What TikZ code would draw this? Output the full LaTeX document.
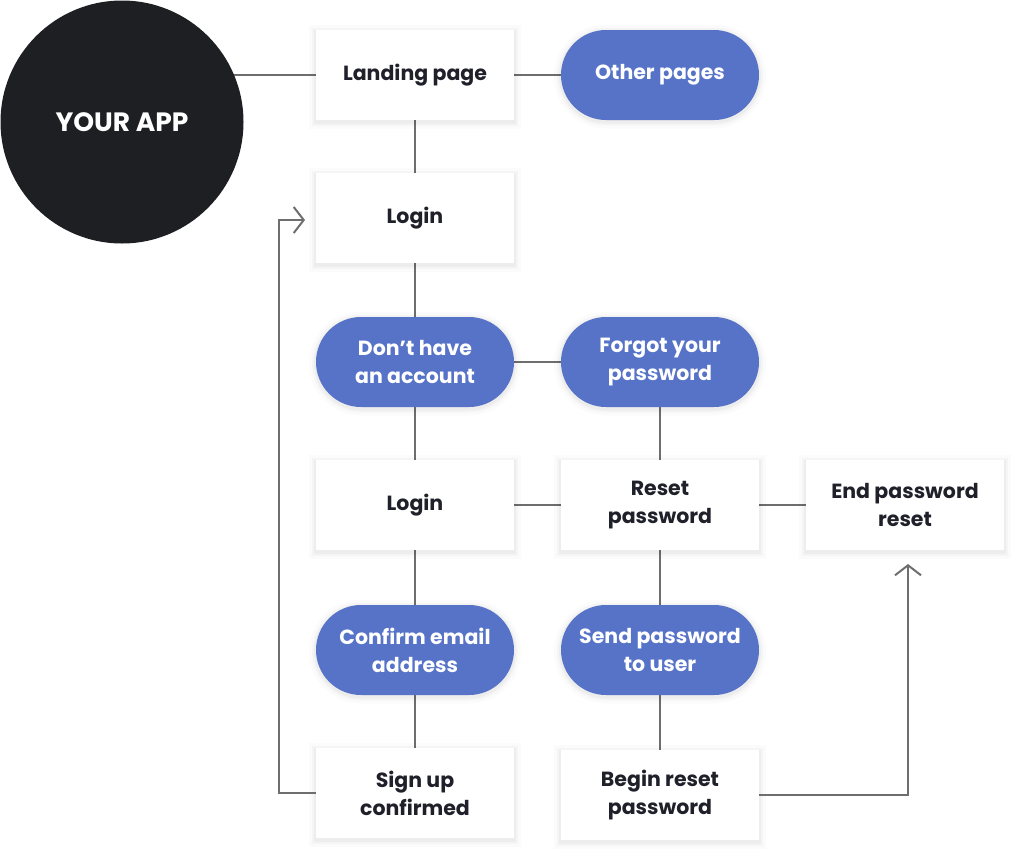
\documentclass[tikz,border=0pt]{standalone}
\usepackage{fontspec}
\setmainfont{Poppins}
\usetikzlibrary{arrows.meta,backgrounds}
\definecolor{pillblue}{HTML}{5673C8}
\definecolor{darktext}{HTML}{1F2029}
\definecolor{circfill}{HTML}{1E1F23}
\definecolor{linegray}{HTML}{6E6E6E}
\tikzset{
  base/.style={minimum width=198pt, minimum height=90pt, inner sep=0pt, align=center,
    font=\bfseries\fontsize{20.5}{28}\selectfont},
  softshadow/.style={
    preaction={draw=black, draw opacity=0.015, line width=14pt, fill=none, transform canvas={yshift=-1.5pt}},
    preaction={draw=black, draw opacity=0.022, line width=8pt, fill=none, transform canvas={yshift=-1.5pt}},
    preaction={draw=black, draw opacity=0.03, line width=4pt, fill=none, transform canvas={yshift=-1.5pt}}},
  whitebox/.style={base, fill=white, text=darktext, softshadow},
  pill/.style={base, fill=pillblue, text=white, rounded corners=45pt, softshadow},
  conn/.style={draw=linegray, line width=2pt},
  arr/.style={conn, -{Straight Barb[length=10pt,width=26pt,line width=2pt]}}
}
\begin{document}
\begin{tikzpicture}[x=1pt,y=-1pt]
\useasboundingbox (0,0) rectangle (1022,857);

\node[circle, fill=circfill, minimum size=243pt, inner sep=0pt, text=white,
  font=\bfseries\fontsize{26.5}{28}\selectfont] (app) at (122,122) {YOUR APP};

\node[whitebox] (land) at (415,75) {Landing page};
\node[pill] (other) at (660,75) {Other pages};
\node[whitebox] (login1) at (415,218) {Login};
\node[pill] (dont) at (415,362) {Don’t have\\an account};
\node[pill] (forgot) at (660,362) {Forgot your\\password};
\node[whitebox] (login2) at (415,505) {Login};
\node[whitebox] (reset) at (660,505) {Reset\\password};
\node[whitebox] (end) at (905,505) {End password\\reset};
\node[pill] (confirm) at (415,650) {Confirm email\\address};
\node[pill] (send) at (660,650) {Send password\\to user};
\node[whitebox] (sign) at (415,793) {Sign up\\confirmed};
\node[whitebox] (begin) at (660,795) {Begin reset\\password};

\begin{scope}[on background layer]
\draw[conn] (app.center |- land.west) -- (land.west);
\draw[conn] (land) -- (other);
\draw[conn] (land) -- (login1);
\draw[conn] (login1) -- (dont);
\draw[conn] (dont) -- (forgot);
\draw[conn] (dont) -- (login2);
\draw[conn] (forgot) -- (reset);
\draw[conn] (login2) -- (reset);
\draw[conn] (reset) -- (end);
\draw[conn] (reset) -- (send);
\draw[conn] (login2) -- (confirm);
\draw[conn] (confirm) -- (sign);
\draw[conn] (send) -- (begin);
\end{scope}

\coordinate (turnA) at (279,220);
\coordinate (tipA) at (305,220);
\draw[arr] (sign.west) -| (turnA) -- (tipA);
\coordinate (tipB) at (908,564);
\draw[arr] (begin.east) -| (tipB);
\end{tikzpicture}
\end{document}
